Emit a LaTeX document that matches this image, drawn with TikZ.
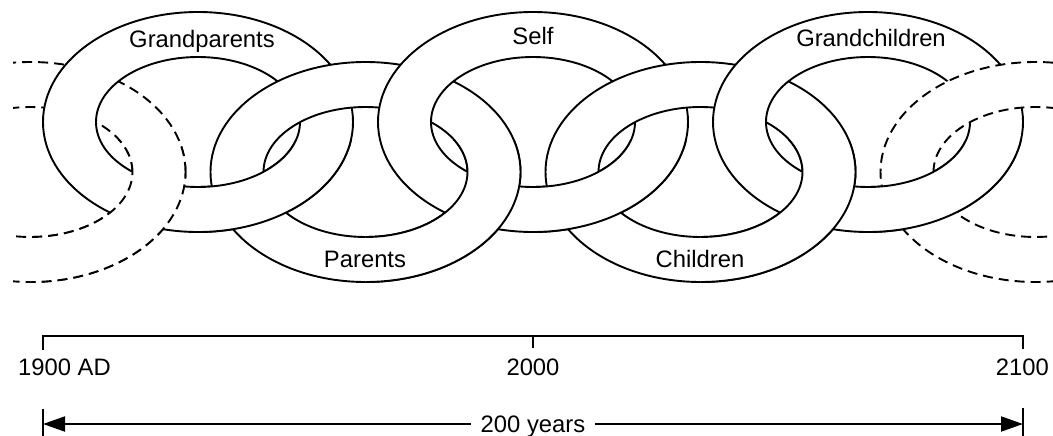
\documentclass[tikz,border=0pt]{standalone}
\usepackage{fontspec}
\setmainfont{Liberation Sans}
\usetikzlibrary{arrows.meta}
\newcommand{\chainring}[3]{%
  \fill[white,even odd rule] (#1,#2) ellipse [x radius=155pt,y radius=110pt]
                              (#1,#2) ellipse [x radius=102pt,y radius=65pt];
  \draw[#3] (#1,#2) ellipse [x radius=155pt,y radius=110pt]
            (#1,#2) ellipse [x radius=102pt,y radius=65pt];}
\newcommand{\frontpart}[5]{%
  \begin{scope}
    \clip (#4,140) rectangle (#5,300);
    \chainring{#1}{#2}{#3}
  \end{scope}}
\begin{document}
\begin{tikzpicture}[x=1pt,y=-1pt,
  solidring/.style={line width=1.9pt},
  ghostring/.style={line width=1.9pt,dash pattern=on 10pt off 6pt},
  axisline/.style={line width=1.9pt},
  lbl/.style={font=\fontsize{23.8}{28}\selectfont,inner sep=0pt}]
\useasboundingbox (0,0) rectangle (1053,436);
% chain of links: each later link lies over the earlier one at the top crossing
\begin{scope}
  \clip (13,0) rectangle (1053,436);
  \chainring{30.5}{172}{ghostring}
  \chainring{198}{122}{solidring}
  \chainring{365.5}{172}{solidring}
  \chainring{533}{122}{solidring}
  \chainring{700.5}{172}{solidring}
  \chainring{868}{122}{solidring}
  \chainring{1035.5}{172}{ghostring}
  % the earlier link lies over the later one at the bottom crossing
  \frontpart{30.5}{172}{ghostring}{30.5}{198}
  \frontpart{198}{122}{solidring}{198}{365.5}
  \frontpart{365.5}{172}{solidring}{365.5}{533}
  \frontpart{533}{122}{solidring}{533}{700.5}
  \frontpart{700.5}{172}{solidring}{700.5}{868}
  \frontpart{868}{122}{solidring}{868}{1035.5}
\end{scope}
% link labels
\node[lbl,anchor=base] (gp)   at (202,48)  {Grandparents};
\node[lbl,anchor=base] (self) at (533,45)  {Self};
\node[lbl,anchor=base] (gc)   at (871,47)  {Grandchildren};
\node[lbl,anchor=base] (par)  at (365,267) {Parents};
\node[lbl,anchor=base] (chi)  at (700,267) {Children};
% time axis
\coordinate (a0) at (43,336);
\coordinate (a1) at (533,336);
\coordinate (a2) at (1023,336);
\coordinate (t0) at (43,350);
\coordinate (t1) at (533,348);
\coordinate (t2) at (1023,349);
\draw[axisline] (t0) -- (a0) -- (a2) -- (t2);
\draw[axisline] (a1) -- (t1);
\node[lbl,anchor=base west] (y1900) at (18,375)   {1900 AD};
\node[lbl,anchor=base]      (y2000) at (533,375)  {2000};
\node[lbl,anchor=base east] (y2100) at (1049,375) {2100};
% span arrow
\coordinate (b0) at (43,424);
\coordinate (b1) at (1023,424);
\coordinate (c0t) at (43,409);
\coordinate (c0b) at (43,436);
\coordinate (c1t) at (1023,408);
\coordinate (c1b) at (1023,436);
\draw[axisline] (c0t) -- (c0b);
\draw[axisline] (c1t) -- (c1b);
\node[lbl,anchor=base,inner xsep=10pt] (span) at (533,432) {200 years};
\draw[axisline,-{Triangle[length=22pt,width=15pt]}] (span.west |- b0) -- (b0);
\draw[axisline,-{Triangle[length=22pt,width=15pt]}] (span.east |- b1) -- (b1);
\end{tikzpicture}
\end{document}
